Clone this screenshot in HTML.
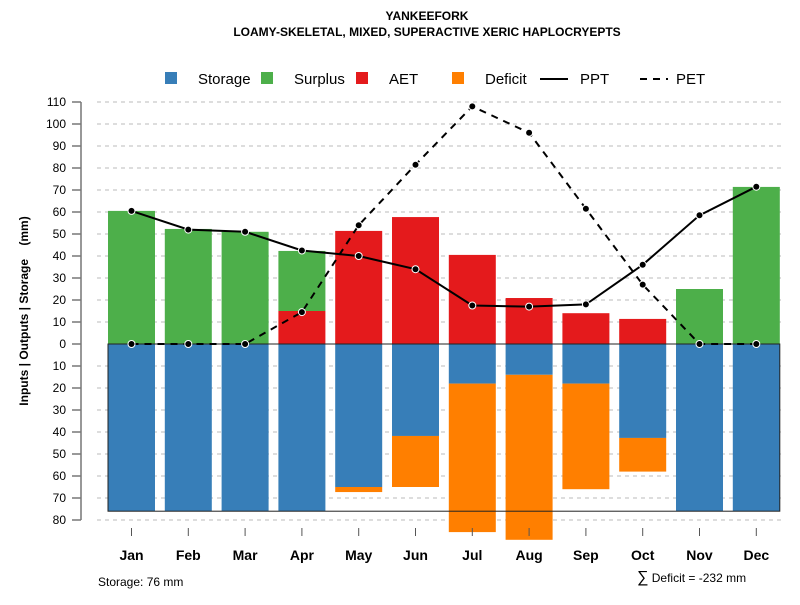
<!DOCTYPE html>
<html><head><meta charset="utf-8"><style>
body{margin:0;background:#fff;font-family:"Liberation Sans",sans-serif}
svg text{font-family:"Liberation Sans","DejaVu Sans",sans-serif}
</style></head><body>
<svg id="c" width="800" height="600" xmlns="http://www.w3.org/2000/svg">
<text x="427" y="20" text-anchor="middle" font-size="12" font-weight="bold">YANKEEFORK</text>
<text x="427" y="36" text-anchor="middle" font-size="12" font-weight="bold">LOAMY-SKELETAL, MIXED, SUPERACTIVE XERIC HAPLOCRYEPTS</text>
<g id="legend">
<g><rect x="165" y="72" width="12" height="12" fill="#377eb8"/><text x="198" y="84" font-size="15">Storage</text></g>
<g><rect x="261" y="72" width="12" height="12" fill="#4daf4a"/><text x="294" y="84" font-size="15">Surplus</text></g>
<g><rect x="356" y="72" width="12" height="12" fill="#e41a1c"/><text x="389" y="84" font-size="15">AET</text></g>
<g><rect x="452" y="72" width="12" height="12" fill="#ff7f00"/><text x="485" y="84" font-size="15">Deficit</text></g>
<g><line x1="540" y1="79" x2="568" y2="79" stroke="#000" stroke-width="2"/><text x="580" y="84" font-size="15">PPT</text></g>
<g><line x1="640" y1="79" x2="668" y2="79" stroke="#000" stroke-width="2" stroke-dasharray="7,6"/><text x="676" y="84" font-size="15">PET</text></g>
</g>
<text transform="translate(28,311) rotate(-90)" text-anchor="middle" font-size="12" font-weight="bold" xml:space="preserve" style="white-space:pre">Inputs | Outputs | Storage    (mm)</text>
<g id="grid"></g><g id="bars"></g><g id="axes"></g><g id="lines"></g>
<text x="98" y="586" font-size="12">Storage: 76 mm</text>
<text x="637" y="582" font-size="12"><tspan font-size="16">∑</tspan> Deficit = -232 mm</text>
</svg>
<script>
const months=["Jan","Feb","Mar","Apr","May","Jun","Jul","Aug","Sep","Oct","Nov","Dec"];
const storage=[76,76,76,76,65,41.8,18,14,18,42.7,76,76];
const deficit=[0,0,0,0,2.3,23.2,67.5,75,48,15.3,0,0];
const aet=[0,0,0,15,51.4,57.7,40.5,20.9,14,11.4,0,0];
const surplus=[60.5,52.3,51,27.3,0,0,0,0,0,0,25,71.4];
const ppt=[60.5,52,51,42.5,40,34,17.5,17,18,36,58.5,71.5];
const pet=[0,0,0,14.5,54,81.5,108,96,61.5,27,0,0];
const yTicks=[110,100,90,80,70,60,50,40,30,20,10,0,-10,-20,-30,-40,-50,-60,-70,-80];
const awc=76;
const NS="http://www.w3.org/2000/svg";
const y=v=>344-v*2.2;
const x=i=>131.5+i*56.8;
const bw=47;
function mk(tag,attrs,parent){const e=document.createElementNS(NS,tag);for(const k in attrs)e.setAttribute(k,attrs[k]);document.getElementById(parent).appendChild(e);return e;}
yTicks.forEach(t=>{
 if(t!==0){const g=mk('line',{x1:97,x2:783,y1:y(t),y2:y(t),stroke:'#bbb','stroke-dasharray':'4,4'},'grid');
 
 }
 const tk=mk('line',{x1:72,x2:81,y1:y(t),y2:y(t),stroke:'#777','stroke-width':1.5},'axes');
 
 
 const tl=mk('text',{x:66,y:y(t)+4,'text-anchor':'end','font-size':12},'axes');tl.textContent=Math.abs(t);
 
 
});
const ax=mk('line',{x1:81,x2:81,y1:y(110),y2:y(-80),stroke:'#777','stroke-width':1.5},'axes');


months.forEach((m,i)=>{
 const cx=x(i),l=cx-bw/2;
 function bar(v0,v1,col,name){if(v1===v0)return;const r=mk('rect',{x:l,y:Math.min(y(v0),y(v1)),width:bw,height:Math.abs(y(v1)-y(v0)),fill:col},'bars');
 
 }
 bar(0,-storage[i],'#377eb8','bar-storage-'+m.toLowerCase());
 bar(-storage[i],-storage[i]-deficit[i],'#ff7f00','bar-deficit-'+m.toLowerCase());
 bar(0,aet[i],'#e41a1c','bar-aet-'+m.toLowerCase());
 bar(aet[i],aet[i]+surplus[i],'#4daf4a','bar-surplus-'+m.toLowerCase());
 const tk=mk('line',{x1:cx,x2:cx,y1:528,y2:536,stroke:'#555','stroke-width':1},'axes');
 
 
 const t=mk('text',{x:cx,y:560,'text-anchor':'middle','font-size':14,'font-weight':'bold'},'axes');t.textContent=m;
 
 
});
const box=mk('rect',{x:x(0)-bw/2,y:y(0),width:x(11)+bw/2-(x(0)-bw/2),height:y(-awc)-y(0),fill:'none',stroke:'#222','stroke-width':1},'bars');


function series(vals,dash,name){
 const p=mk('polyline',{points:vals.map((v,i)=>x(i)+','+y(v)).join(' '),fill:'none',stroke:'#000','stroke-width':2,'stroke-dasharray':dash},'lines');
 
 
 vals.forEach((v,i)=>{const c=mk('circle',{cx:x(i),cy:y(v),r:3.5,fill:'#000',stroke:'#fff','stroke-width':1},'lines');
 
 });
}
series(pet,'7,6','pet');
series(ppt,'none','ppt');
</script>
</body></html>
